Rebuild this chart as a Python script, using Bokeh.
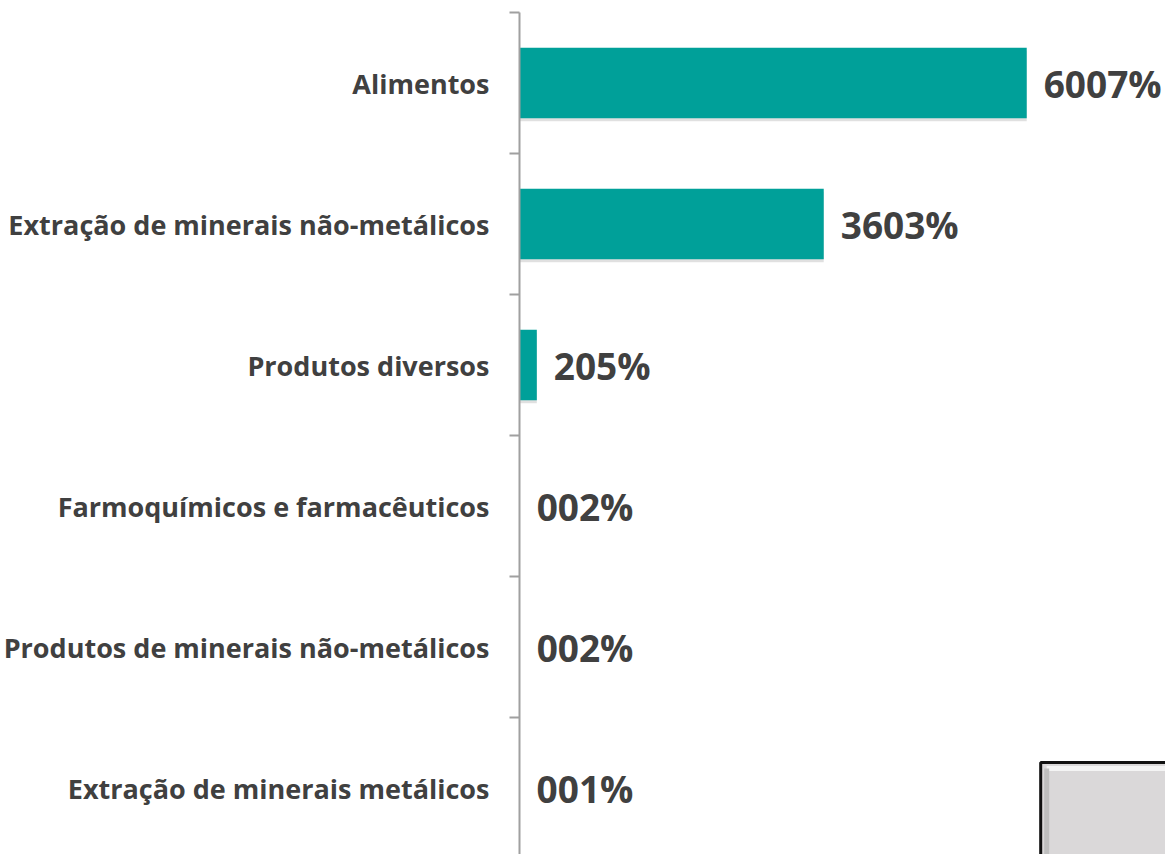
from bokeh.plotting import figure
from bokeh.models import Range1d, FixedTicker, ColumnDataSource, LabelSet
from bokeh.core.properties import value
from bokeh.embed import file_html
from bokeh.resources import INLINE

categories = [
    "Alimentos",
    "Extração de minerais não-metálicos",
    "Produtos diversos",
    "Farmoquímicos e farmacêuticos",
    "Produtos de minerais não-metálicos",
    "Extração de minerais metálicos",
]
values = [60.07, 36.03, 2.05, 0.02, 0.02, 0.01]
value_labels = [f"{round(v * 100):03d}%" for v in values]

FONT = "Open Sans"
TEXT_COLOR = "#404040"
BAR_COLOR = "#00A099"

n = len(categories)
pos = list(range(n))

W, H = 1165, 854
LEFT, TOP = 518, 12
PX_PER_UNIT = 8.457
BAND = 141.0
x_end = (W - LEFT) / PX_PER_UNIT
y_bottom = -0.5 + (H - TOP) / BAND

p = figure(
    width=W, height=H,
    output_backend="svg", toolbar_location=None,
    x_range=Range1d(0, x_end),
    y_range=Range1d(y_bottom, -0.5),
    min_border_left=LEFT, min_border_right=0, min_border_top=TOP, min_border_bottom=0,
)
p.outline_line_color = None
p.xgrid.visible = False
p.ygrid.visible = False
p.xaxis.visible = False

shadow_shift = 3.0 / BAND
src = ColumnDataSource(dict(y=pos, ys=[y + shadow_shift for y in pos],
                            v=values, lab=value_labels, cat=categories))

# faint drop shadow under the bars
p.hbar(y="ys", left=0, right="v", height=0.5, source=src,
       fill_color="#000000", fill_alpha=0.12, line_color=None)
p.hbar(y="y", left=0, right="v", height=0.5, source=src,
       fill_color=BAR_COLOR, line_color=None)

labels = LabelSet(x="v", y="y", text="lab", source=src, x_offset=17,
                  text_font=value(FONT), text_font_style="bold", text_font_size="37px",
                  text_color=TEXT_COLOR, text_baseline="middle", text_align="left")
p.add_layout(labels)

yax = p.yaxis[0]
yax.ticker = FixedTicker(ticks=pos, minor_ticks=[i - 0.5 for i in range(n + 1)])
yax.major_label_overrides = {i: c for i, c in enumerate(categories)}
yax.major_tick_out = 0
yax.major_tick_in = 0
yax.minor_tick_out = 10
yax.minor_tick_in = 0
yax.minor_tick_line_color = "#A0A0A0"
yax.minor_tick_line_width = 2
yax.axis_line_color = "#A0A0A0"
yax.axis_line_width = 2
yax.major_label_standoff = 20
yax.major_label_text_font = FONT
yax.major_label_text_font_style = "bold"
yax.major_label_text_font_size = "27px"
yax.major_label_text_color = TEXT_COLOR

# decorative grey box in the lower right corner (bevelled)
bx0 = (1040 - LEFT) / PX_PER_UNIT
by0 = -0.5 + (762 - TOP) / BAND
bx1 = x_end + 5
by1 = y_bottom + 1
p.quad(left=bx0, right=bx1, top=by0, bottom=by1,
       fill_color="#DAD8D9", line_color="#111111", line_width=3)
bx_in = (1046 - LEFT) / PX_PER_UNIT
by_in = -0.5 + (768 - TOP) / BAND
p.segment(x0=bx_in, y0=by_in, x1=bx1, y1=by_in, line_color="#F4F4F4", line_width=5)
p.segment(x0=bx_in, y0=by_in, x1=bx_in, y1=by1, line_color="#BEBEBE", line_width=5)

open("out.html", "w").write(file_html(p, INLINE))
